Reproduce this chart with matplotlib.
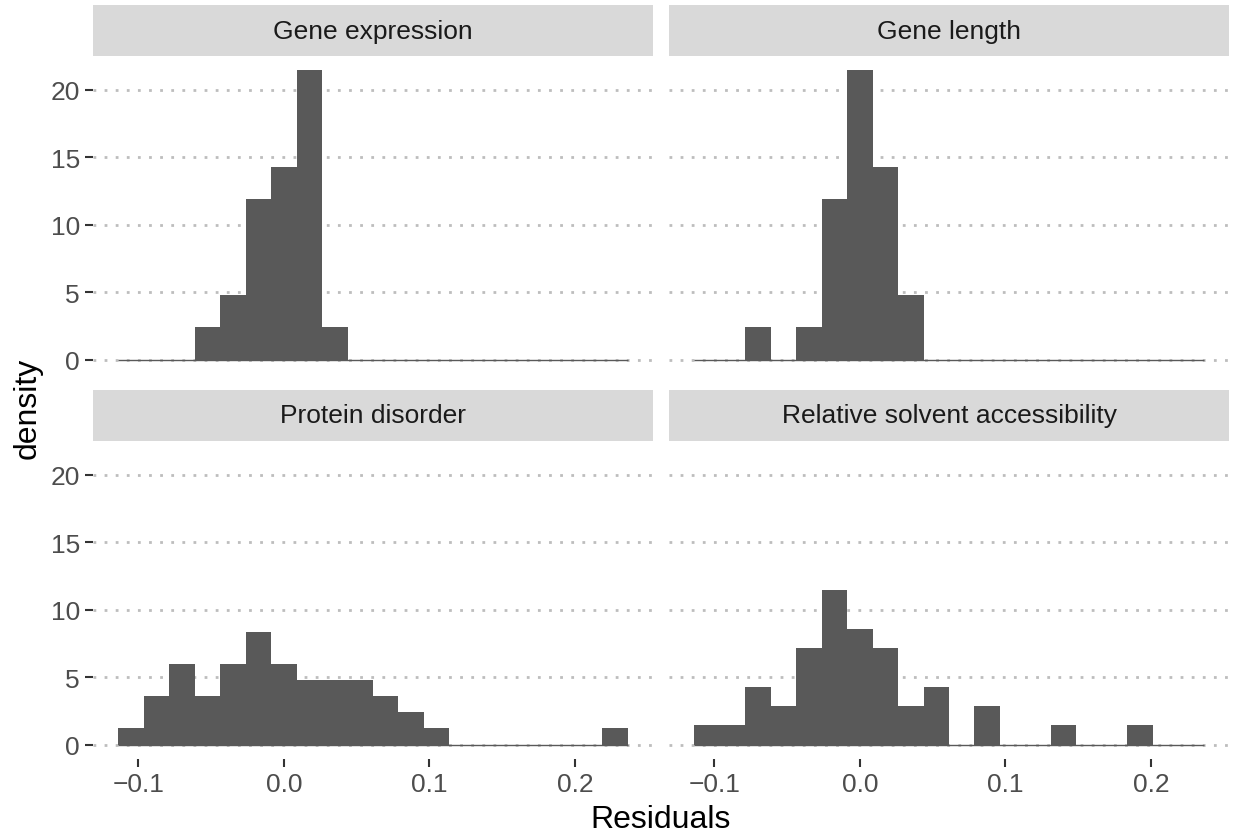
"""
Faceted histograms of model residuals (ggplot-like look).
"""

import matplotlib
matplotlib.use("Agg")
import matplotlib.pyplot as plt
import numpy as np

plt.rcParams["font.family"] = ["Liberation Sans", "DejaVu Sans"]

# data
PANELS = [
    "Gene expression",
    "Gene length",
    "Protein disorder",
    "Relative solvent accessibility",
]
BIN_START = -0.11375
BIN_WIDTH = 0.0175
N_BINS = 20
COUNTS_EXPRESSION = [0, 0, 0, 1, 2, 5, 6, 9, 1, 0, 0, 0, 0, 0, 0, 0, 0, 0, 0, 0]
COUNTS_LENGTH = [0, 0, 1, 0, 1, 5, 9, 6, 2, 0, 0, 0, 0, 0, 0, 0, 0, 0, 0, 0]
COUNTS_DISORDER = [1, 3, 5, 3, 5, 7, 5, 4, 4, 4, 3, 2, 1, 0, 0, 0, 0, 0, 0, 1]
COUNTS_RSA = [1, 1, 3, 2, 5, 8, 6, 5, 2, 3, 0, 2, 0, 0, 1, 0, 0, 1, 0, 0]
X_TICKS = [-0.1, 0.0, 0.1, 0.2]
X_TICK_LABELS = ["\u22120.1", "0.0", "0.1", "0.2"]
Y_TICKS = [0, 5, 10, 15, 20]

BAR_COLOR = "#595959"
STRIP_COLOR = "#D9D9D9"
GRID_COLOR = "#BDBDBD"
TICK_TEXT = "#4D4D4D"

W, H = 1233, 837
fig = plt.figure(figsize=(W / 100, H / 100), dpi=100)

edges = BIN_START + BIN_WIDTH * np.arange(N_BINS + 1)
densities = []
for counts in [COUNTS_EXPRESSION, COUNTS_LENGTH, COUNTS_DISORDER, COUNTS_RSA]:
    c = np.array(counts, dtype=float)
    densities.append(c / (c.sum() * BIN_WIDTH))

# ggplot-style 5% expansion
ymax = max(d.max() for d in densities)
ylim = (-0.05 * ymax, 1.05 * ymax)
xspan = edges[-1] - edges[0]
xlim = (edges[0] - 0.05 * xspan, edges[-1] + 0.05 * xspan)

# panel boxes in pixels
col_left = [93, 669]
row_top = [57, 442]
pw, ph = 560, 318
strip_h = 51

for i, (name, dens) in enumerate(zip(PANELS, densities)):
    r, c = divmod(i, 2)
    left, top = col_left[c], row_top[r]
    ax = fig.add_axes([left / W, 1 - (top + ph) / H, pw / W, ph / H])
    ax.bar(edges[:-1], dens, width=BIN_WIDTH, align="edge",
           color=BAR_COLOR, linewidth=0, zorder=3)
    ax.hlines(0, edges[0], edges[-1], color=BAR_COLOR, lw=1.0, zorder=3)
    ax.set_xlim(*xlim)
    ax.set_ylim(*ylim)
    ax.set_yticks(Y_TICKS)
    ax.set_xticks(X_TICKS)
    ax.grid(axis="y", color=GRID_COLOR, linewidth=2.0, linestyle=(0, (1, 3)),
            zorder=1)
    ax.grid(axis="x", visible=False)
    for s in ax.spines.values():
        s.set_visible(False)
    ax.tick_params(axis="both", length=6, width=1.5, color="#333333",
                   labelsize=19, labelcolor=TICK_TEXT, pad=3.5)
    if c == 0:
        ax.set_yticklabels([str(t) for t in Y_TICKS])
    else:
        ax.tick_params(axis="y", left=False, labelleft=False)
    if r == 1:
        ax.set_xticklabels(X_TICK_LABELS)
    else:
        ax.tick_params(axis="x", bottom=False, labelbottom=False)

    sax = fig.add_axes([left / W, 1 - top / H, pw / W, strip_h / H])
    sax.set_facecolor(STRIP_COLOR)
    sax.set_xticks([])
    sax.set_yticks([])
    for s in sax.spines.values():
        s.set_visible(False)
    sax.text(0.5, 0.5, name, ha="center", va="center", fontsize=19,
             color="#1A1A1A", transform=sax.transAxes)

fig.text((93 + 1229) / 2 / W, 1 - 820 / H, "Residuals", ha="center",
         va="center", fontsize=23, color="black")
fig.text(28 / W, 1 - 408 / H, "density", ha="center", va="center",
         rotation=90, fontsize=23, color="black")

fig.savefig("out.png", dpi=100)
